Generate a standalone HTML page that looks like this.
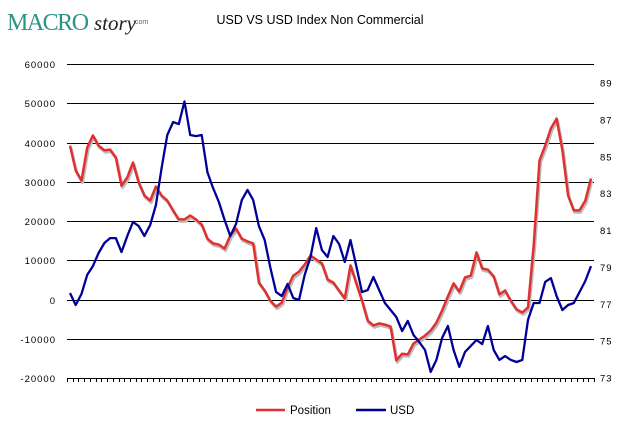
<!DOCTYPE html>
<html><head><meta charset="utf-8"><style>
html,body{margin:0;padding:0;background:#fff;width:620px;height:425px;overflow:hidden}
svg{display:block}
</style></head><body>
<svg id="chart" width="620" height="425" xmlns="http://www.w3.org/2000/svg">
  <g>
    <text x="7" y="30" font-family="Liberation Serif, serif" font-size="24" fill="#2a9585" letter-spacing="-1.5">MACRO</text>
    <text x="94" y="30" font-family="Liberation Serif, serif" font-style="italic" font-size="21" fill="#222">story</text>
    <text x="133" y="24" font-family="Liberation Sans, sans-serif" font-size="7" fill="#666">.com</text>
  </g>
  <text x="320" y="24" text-anchor="middle" font-family="Liberation Sans, sans-serif" font-size="12.5" fill="#000">USD VS USD Index Non Commercial</text>
  <g id="grid"></g><g id="yl"></g><g id="yr"></g><g id="xt"></g><g id="series"></g>
  <g>
    <g>
      <line x1="256" y1="410" x2="285" y2="410" stroke="#e03030" stroke-width="2.5"/>
      <text x="290" y="414" font-family="Liberation Sans, sans-serif" font-size="11.5" fill="#000">Position</text>
    </g>
    <g>
      <line x1="356" y1="410" x2="386" y2="410" stroke="#000099" stroke-width="2.5"/>
      <text x="390" y="414" font-family="Liberation Sans, sans-serif" font-size="11.5" fill="#000">USD</text>
    </g>
  </g>
</svg>
<script>
const leftTicks = [60000,50000,40000,30000,20000,10000,0,-10000,-20000];
const rightTicks = [89,87,85,83,81,79,77,75,73];
const positionValues = [39200,32900,30300,38700,41800,39200,38000,38200,36200,29000,31100,34900,29800,26500,25200,28800,26500,25200,22700,20400,20400,21400,20400,19100,15500,14300,14000,13000,16300,18100,15500,14800,14300,4300,2300,-300,-1800,-800,3100,6100,7100,8900,11200,10200,9200,5100,4300,2300,300,8700,4100,-300,-5400,-6600,-6100,-6400,-6900,-15500,-13800,-14000,-11200,-10200,-9200,-7900,-5900,-2800,800,4100,2000,5600,6100,12000,7900,7600,5900,1300,2300,-300,-2500,-3300,-2000,13800,35400,39200,43600,46100,38000,26500,22700,22700,25200,30800];
const usdValues = [77.61,76.96,77.56,78.59,79.07,79.78,80.32,80.59,80.59,79.83,80.70,81.46,81.24,80.70,81.30,82.38,84.39,86.18,86.88,86.77,88.00,86.18,86.12,86.18,84.17,83.30,82.54,81.57,80.70,81.35,82.65,83.20,82.65,81.24,80.48,78.97,77.66,77.45,78.10,77.34,77.23,78.59,79.56,81.13,79.94,79.56,80.70,80.27,79.29,80.48,79.07,77.66,77.77,78.48,77.77,77.07,76.69,76.31,75.55,76.09,75.33,74.95,74.52,73.33,73.98,75.17,75.82,74.52,73.60,74.41,74.74,75.06,74.84,75.82,74.52,73.98,74.19,73.98,73.87,73.98,76.15,77.07,77.07,78.21,78.42,77.45,76.69,76.96,77.07,77.66,78.26,79.07];

const NS='http://www.w3.org/2000/svg';
const X0=67, X1=594, Y0=378, Y1=64;
const yL = v => Y0 - (v - (-20000)) / 80000 * (Y0 - Y1);
const yR = v => Y0 - (v - 73) / 16 * (Y0 - 83);
const n = positionValues.length;
const xS = i => 70 + i * (591 - 70) / (n - 1);
function mk(tag, attrs, parent){const e=document.createElementNS(NS,tag);for(const k in attrs)e.setAttribute(k,attrs[k]);parent.appendChild(e);return e;}
const grid=document.getElementById('grid'), yl=document.getElementById('yl'), yr=document.getElementById('yr'), xt=document.getElementById('xt'), ser=document.getElementById('series');
leftTicks.forEach(v=>{
  const y=Math.round(yL(v))+0.5;
  const l=mk('line',{x1:X0,x2:X1,y1:y,y2:y,stroke:'#000','stroke-width':1},grid);
  
  
  const t=mk('text',{x:56,y:y+3.5,'text-anchor':'end','font-family':'Liberation Sans, sans-serif','font-size':'9.5','letter-spacing':'1'},yl);
  t.textContent=v;
  
  
});
rightTicks.forEach(v=>{
  const y=yR(v);
  const t=mk('text',{x:600,y:y+3.5,'font-family':'Liberation Sans, sans-serif','font-size':'9.5','letter-spacing':'1'},yr);
  t.textContent=v;
  
  
});
for(let i=0;i<=92;i++){
  const x=Math.round(X0+i*(X1-X0)/92)+0.5;
  const tk=mk('line',{x1:x,x2:x,y1:378,y2:382,stroke:'#000','stroke-width':1},xt);
  
  
}
function path(vals, fy){return vals.map((v,i)=>(i?'L':'M')+xS(i).toFixed(1)+' '+fy(v).toFixed(1)).join(' ');}
const ps=mk('path',{d:path(positionValues,yL),fill:'none',stroke:'#bbb','stroke-width':3,transform:'translate(1,2)','stroke-linejoin':'round'},ser);


const pl=mk('path',{d:path(positionValues,yL),fill:'none',stroke:'#e03030','stroke-width':2.5,'stroke-linejoin':'round'},ser);


const ul=mk('path',{d:path(usdValues,yR),fill:'none',stroke:'#000099','stroke-width':2.3,'stroke-linejoin':'round'},ser);


</script>
</body></html>
